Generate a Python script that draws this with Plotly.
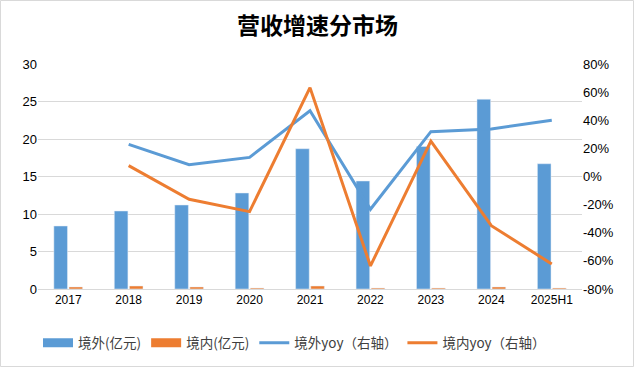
import plotly.graph_objects as go

categories = ["2017", "2018", "2019", "2020", "2021", "2022", "2023", "2024", "2025H1"]
overseas_rev = [8.4, 10.4, 11.2, 12.8, 18.7, 14.4, 19.0, 25.3, 16.7]
domestic_rev = [0.27, 0.4, 0.27, 0.13, 0.4, 0.13, 0.13, 0.27, 0.13]
overseas_yoy = [None, 22.9, 8.4, 13.6, 46.8, -23.3, 31.9, 33.8, 40.0]
domestic_yoy = [None, 7.7, -16.2, -25.0, 63.2, -63.6, 25.2, -35.0, -62.2]
left_ticks = [0, 5, 10, 15, 20, 25, 30]
right_ticks = [-80, -60, -40, -20, 0, 20, 40, 60, 80]

BLUE = "#5B9BD5"
ORANGE = "#ED7D31"
FONT = "Noto Sans CJK SC"

fig = go.Figure()
fig.add_trace(go.Bar(x=categories, y=overseas_rev, name="境外(亿元)", marker_color=BLUE, showlegend=False))
fig.add_trace(go.Bar(x=categories, y=domestic_rev, name="境内(亿元)", marker_color=ORANGE, showlegend=False))
# legend-only entries drawn as wide rectangles like the reference
fig.add_trace(go.Scatter(x=[None], y=[None], name="境外(亿元)", mode="lines",
                         line=dict(color=BLUE, width=9)))
fig.add_trace(go.Scatter(x=[None], y=[None], name="境内(亿元)", mode="lines",
                         line=dict(color=ORANGE, width=9)))
fig.add_trace(go.Scatter(x=categories, y=overseas_yoy, name="境外yoy（右轴）", mode="lines",
                         line=dict(color=BLUE, width=3), yaxis="y2"))
fig.add_trace(go.Scatter(x=categories, y=domestic_yoy, name="境内yoy（右轴）", mode="lines",
                         line=dict(color=ORANGE, width=3), yaxis="y2"))

W, H = 635, 368
ml, mr, mt, mb = 38, 53, 64, 79
pw, ph = W - ml - mr, H - mt - mb

fig.update_layout(
    width=W, height=H,
    margin=dict(l=ml, r=mr, t=mt, b=mb, autoexpand=False),
    paper_bgcolor="white", plot_bgcolor="white",
    font=dict(family=FONT, size=12, color="#404040"),
    title=dict(text="<b>营收增速分市场</b>", x=0.5, xanchor="center", y=1 - 26 / H, yanchor="middle",
               font=dict(family=FONT, size=23, color="#000000")),
    barmode="group", bargap=0.5, bargroupgap=0.1,
    showlegend=True,
    legend=dict(orientation="h", x=38 / W, xanchor="left", xref="container",
                y=1 - 343 / H, yanchor="middle", yref="container",
                font=dict(family=FONT, size=13.5, color="#404040"), itemwidth=30, tracegroupgap=0),
    xaxis=dict(type="category", showgrid=False, showline=True, linecolor="#D9D9D9", linewidth=1,
               ticks="", tickfont=dict(family="Liberation Sans", size=12, color="#000000")),
    yaxis=dict(range=[0, 30], tickvals=left_ticks, showgrid=True, gridcolor="#D9D9D9", zeroline=False,
               showline=False, ticks="", tickfont=dict(family="Liberation Sans", size=13, color="#000000")),
    yaxis2=dict(range=[-80, 80], tickvals=right_ticks, ticktext=[f"{v}%" for v in right_ticks],
                overlaying="y", side="right", showgrid=False, zeroline=False, showline=False, ticks="",
                tickfont=dict(family="Liberation Sans", size=13, color="#000000")),
    shapes=[dict(type="rect", xref="paper", yref="paper",
                 x0=-(ml - 0.5) / pw, x1=1 + (mr - 1.5) / pw, y0=-(mb - 1.5) / ph, y1=1 + (mt - 0.5) / ph,
                 line=dict(color="#D9D9D9", width=1), layer="below")],
)

fig.write_html("out.html", config={"displayModeBar": False},
               post_script="document.body.style.margin='0';document.body.style.overflow='hidden';")
